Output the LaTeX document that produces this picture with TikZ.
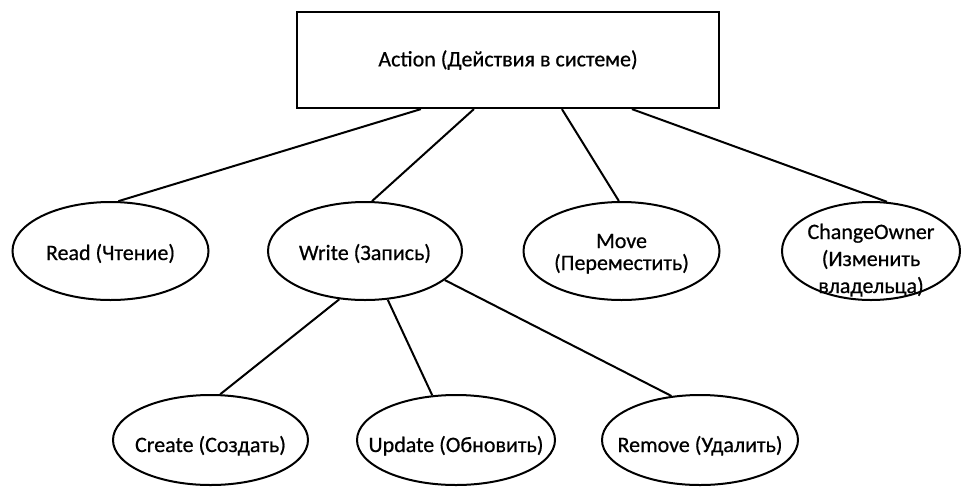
\documentclass[tikz,border=0pt]{standalone}
\usepackage{fontspec}
\setmainfont[FakeBold=0.6]{Carlito}
\usetikzlibrary{shapes.geometric}
% text set with no width and no height, its first baseline lowered by #1
\newcommand{\placed}[2]{\makebox[0pt]{\raisebox{-#1}[0pt][0pt]{#2}}}
\newcommand{\lines}[2]{\parbox[t]{150pt}{\centering\baselineskip=#1 #2}}
\begin{document}
\begin{tikzpicture}[x=1pt,y=-1pt,
  every node/.style={font=\fontsize{22}{22}\selectfont, inner sep=0pt},
  topbox/.style={draw, line width=2.2pt, rectangle, minimum width=422pt, minimum height=96pt},
  oval/.style={draw, line width=2pt, ellipse},
  upper/.style={oval, minimum width=196pt, minimum height=98pt},
  lower/.style={oval, minimum width=195pt, minimum height=90pt},
  link/.style={line width=2pt}]
\useasboundingbox (0,0) rectangle (965,488);

% root of the hierarchy
\node[topbox] (act) at (508,60) {Action (Действия в системе)};

% first level
\node[upper] (read)  at (110.5,251) {\placed{9pt}{Read (Чтение)}};
\node[upper, minimum width=194pt] (write) at (365,251) {\placed{9pt}{Write (Запись)}};
\node[upper] (move)  at (621.5,251) {\placed{-3pt}{\lines{22pt}{Move\\(Переместить)}}};
\node[upper, minimum width=178pt] (owner) at (871,251) {\placed{-12pt}{\lines{27pt}{ChangeOwner\\(Изменить\\владельца)}}};

% second level
\node[lower] (create) at (210.5,440) {\placed{12pt}{Create (Создать)}};
\node[lower, minimum width=198pt] (update) at (456,440) {\placed{12pt}{Update (Обновить)}};
\node[lower, minimum width=196pt] (remove) at (700,440) {\placed{12pt}{Remove (Удалить)}};

% connectors
\draw[link] ([xshift=125pt]act.south west) -- (read.81);
\draw[link] ([xshift=178pt]act.south west) -- (write.82);
\draw[link] ([xshift=266pt]act.south west) -- (move.93);
\draw[link] ([xshift=336pt]act.south west) -- (owner.72);

\draw[link] (write.242) -- (create.78);
\draw[link] (write.295) -- (update.118);
\draw[link] (write.340) -- (remove.123);
\end{tikzpicture}
\end{document}
